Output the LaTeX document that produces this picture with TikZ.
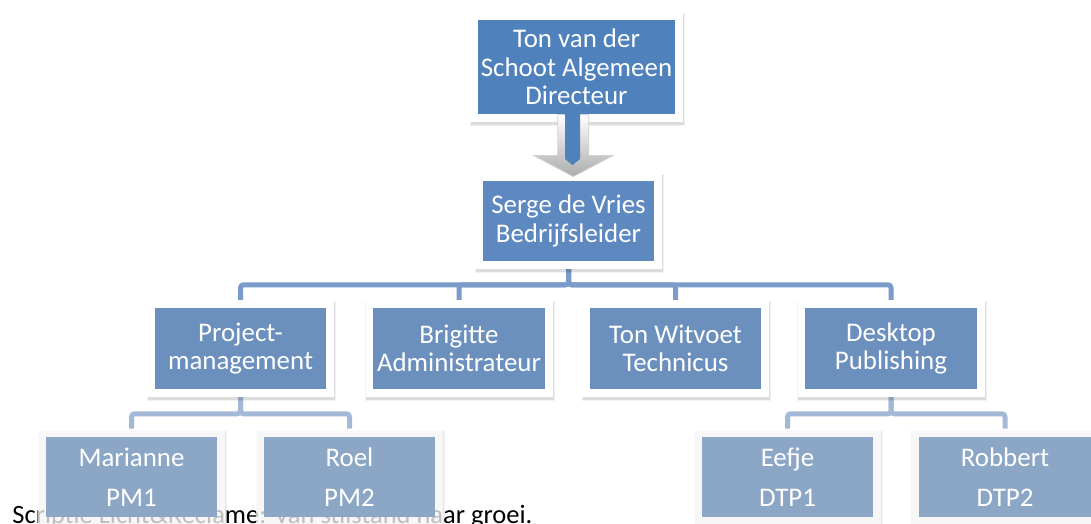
\documentclass[tikz,border=0pt]{standalone}
\usepackage{fontspec}
\setmainfont{Carlito}
\usetikzlibrary{positioning,backgrounds}
\definecolor{topblue}{HTML}{4F81BD}
\definecolor{sergeblue}{HTML}{5D88C0}
\definecolor{midblue}{HTML}{6C90BE}
\definecolor{lowblue}{HTML}{8CA6C6}
\definecolor{linkblue}{HTML}{7B9CCA}
\definecolor{lowlink}{HTML}{A4B9D8}

\begin{document}
\begin{tikzpicture}[x=0.5pt,y=-0.5pt,on grid,
    shade/.style={draw=black, draw opacity=#1, line join=miter,
        transform canvas={shift={(0.4pt,-1.3pt)}}},
    frame/.style={fill=#1, inner sep=0pt, minimum width=85.9pt, minimum height=40.9pt,
        align=center, text=white, font=\fontsize{13.45}{14.25}\selectfont,
        preaction={shade=0.05*\frameop, line width=8.8pt},
        preaction={shade=0.09*\frameop, line width=7.9pt},
        preaction={draw=white, draw opacity=\frameop, line width=7.6pt, line join=miter}},
    lowframe/.style={frame=lowblue, minimum height=40.4pt},
    link/.style={draw=linkblue, line width=2.5pt, rounded corners=1.5pt},
    lowlinks/.style={link, draw=lowlink}]
    \def\frameop{1}
    \useasboundingbox (0,0) rectangle (1091,524);

    \node[anchor=base west, inner sep=0pt, font=\fontsize{13.25}{15}\selectfont] (caption) at (12,523)
        {Scriptie Licht\&Reclame: Van stilstand naar groei.};

    \node[frame=topblue, minimum width=98.9pt, minimum height=47.4pt] (ton) at (576.5,67)
        {Ton van der\\Schoot Algemeen\\Directeur};
    \node[frame=sergeblue, minimum height=40.4pt, below=77pt of ton, xshift=-4pt] (serge)
        {Serge de Vries\\Bedrijfsleider};

    \node[frame=midblue] (proj) at (240.5,348.5) {Project-\\management};
    \node[frame=midblue, right=109.25pt of proj] (brig) {Brigitte\\Administrateur};
    \node[frame=midblue, right=108.25pt of brig] (tonw) {Ton Witvoet\\Technicus};
    \node[frame=midblue, right=107.75pt of tonw] (desk) {Desktop\\Publishing};

    \def\frameop{0.75}
    \node[lowframe, below=64.25pt of proj, xshift=-54.5pt] (mar) {Marianne\\[5.75pt]PM1};
    \node[lowframe, below=64.25pt of proj, xshift=54.5pt] (roel) {Roel\\[5.75pt]PM2};
    \node[lowframe, below=64.25pt of desk, xshift=-51.75pt] (eef) {Eefje\\[5.75pt]DTP1};
    \node[lowframe, below=64.25pt of desk, xshift=57pt] (rob) {Robbert\\[5.75pt]DTP2};

    \begin{scope}[on background layer]
        \foreach \n in {proj,brig,tonw,desk}
            \draw[link] (serge.south) -- ++(0,-11.5pt) -| (\n.north);
        \foreach \n in {mar,roel}
            \draw[lowlinks] (proj.south) -- ++(0,-12pt) -| ([yshift=3.8pt]\n.north);
        \foreach \n in {eef,rob}
            \draw[lowlinks] (desk.south) -- ++(0,-12pt) -| ([yshift=3.8pt]\n.north);
    \end{scope}

    % block arrow
    \shade[top color=white, bottom color=gray!65, draw=gray!35, line width=0.4pt]
        (557,112) -- (588,112) -- (588,153) -- (612,153) -- (572.5,174)
        -- (533,153) -- (557,153) -- cycle;
    \fill[topblue] (565,112) -- (580,112) -- (580,159) -- (572.5,165) -- (565,159) -- cycle;
\end{tikzpicture}
\end{document}
